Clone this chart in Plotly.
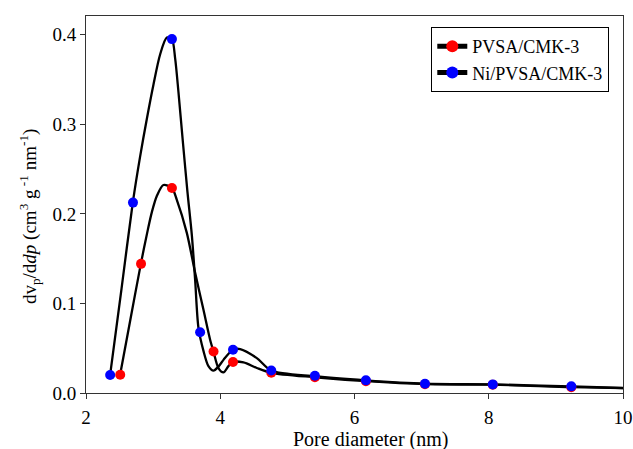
import plotly.graph_objects as go

# Marker data
ni_x = [2.36, 2.70, 3.28, 3.70, 4.19, 4.76, 5.41, 6.17, 7.05, 8.06, 9.23]
ni_y = [0.0201, 0.2126, 0.3952, 0.0678, 0.0483, 0.0252, 0.0193, 0.0141, 0.0104, 0.0096, 0.0074]

pv_x = [2.51, 2.82, 3.28, 3.90, 4.19, 4.76, 5.41, 6.17, 7.05, 8.06, 9.23]
pv_y = [0.0204, 0.1442, 0.2290, 0.0464, 0.0346, 0.0226, 0.0176, 0.0132, 0.0098, 0.0093, 0.0065]

# Smooth fitted curves
ni_cx = [2.359, 2.529, 2.697, 2.806, 2.906, 3.004, 3.104, 3.204, 3.279, 3.328, 3.377, 3.443,
         3.511, 3.577, 3.626, 3.675, 3.750, 3.824, 3.899, 3.973, 4.048, 4.188, 4.297, 4.545,
         4.758, 5.414, 6.170, 7.054, 8.063, 9.229, 10.0]
ni_cy = [0.020, 0.1163, 0.2126, 0.264, 0.306, 0.344, 0.378, 0.397, 0.3952, 0.3737, 0.3364, 0.2806,
         0.2249, 0.1760, 0.1260, 0.0730, 0.0470, 0.0300, 0.0250, 0.0295, 0.0370, 0.0483, 0.0491, 0.0390,
         0.0252, 0.0187, 0.0141, 0.0104, 0.0096, 0.0074, 0.0056]

pv_cx = [2.508, 2.662, 2.817, 2.923, 2.981, 3.055, 3.153, 3.279, 3.353, 3.502, 3.626, 3.750, 3.849,
         3.899, 3.973, 4.048, 4.122, 4.188, 4.346, 4.545, 4.758, 5.414, 6.170, 7.054, 8.063,
         9.229, 10.0]
pv_cy = [0.0204, 0.0823, 0.1442, 0.1830, 0.2020, 0.2200, 0.2323, 0.2290, 0.2157, 0.1788, 0.1342, 0.0929, 0.0595,
         0.0464, 0.0279, 0.0230, 0.0300, 0.0346, 0.0341, 0.0279, 0.0226, 0.0176, 0.0132, 0.0098, 0.0093,
         0.0065, 0.0054]

x_ticks = [2, 4, 6, 8, 10]
y_ticks = [0.0, 0.1, 0.2, 0.3, 0.4]

x_title = "Pore diameter (nm)"
y_title = "dv<sub>p</sub>/d<i>dp</i> (cm<sup>3</sup> g<sup> -1</sup> nm<sup>-1</sup>)"

FONT = "Liberation Serif, Times New Roman, serif"
TICK = dict(family=FONT, size=19, color="black")

fig = go.Figure()
for cx, cy in [(pv_cx, pv_cy), (ni_cx, ni_cy)]:
    fig.add_trace(go.Scatter(x=cx, y=cy, mode="lines", line=dict(color="black", width=2.3, shape="spline", smoothing=0.8),
                             showlegend=False, hoverinfo="skip"))
fig.add_trace(go.Scatter(x=pv_x, y=pv_y, mode="markers", marker=dict(color="#ff0000", size=10), showlegend=False))
fig.add_trace(go.Scatter(x=ni_x, y=ni_y, mode="markers", marker=dict(color="#0000ff", size=10), showlegend=False))
# legend entries
fig.add_trace(go.Scatter(x=[None], y=[None], mode="lines+markers", name="PVSA/CMK-3",
                         line=dict(color="black", width=2), marker=dict(color="#ff0000", size=10)))
fig.add_trace(go.Scatter(x=[None], y=[None], mode="lines+markers", name="Ni/PVSA/CMK-3",
                         line=dict(color="black", width=2), marker=dict(color="#0000ff", size=10)))

fig.update_layout(
    width=633, height=449,
    margin=dict(l=86, r=10, t=16, b=56),
    paper_bgcolor="white", plot_bgcolor="white",
    font=dict(family=FONT, size=18, color="black"),
    showlegend=True,
    legend=dict(x=0.643, y=0.971, xanchor="left", yanchor="top", bordercolor="black", borderwidth=1,
                bgcolor="white", font=dict(family=FONT, size=18, color="black"), tracegroupgap=0,
                itemsizing="constant"),
    xaxis=dict(range=[2, 10], tickvals=x_ticks, ticktext=[str(v) for v in x_ticks], automargin=False,
               showgrid=False, zeroline=False, showline=True, linecolor="#333", linewidth=1, mirror=True,
               ticks="outside", ticklen=5, tickcolor="#333", tickfont=TICK, ticklabelstandoff=2),
    yaxis=dict(range=[0, 0.421], tickvals=y_ticks, ticktext=["%.1f" % v for v in y_ticks], automargin=False,
               showgrid=False, zeroline=False, showline=True, linecolor="#333", linewidth=1, mirror=True,
               ticks="outside", ticklen=5, tickcolor="#333", tickfont=TICK),
    annotations=[
        dict(text=x_title, xref="paper", yref="paper", x=0.531, y=-0.124, xanchor="center", yanchor="middle",
             showarrow=False, font=dict(family=FONT, size=20, color="black")),
        dict(text=y_title, xref="paper", yref="paper", x=-0.104, y=0.467, xanchor="center", yanchor="middle",
             textangle=-90, showarrow=False, font=dict(family=FONT, size=19, color="black")),
    ],
)

fig.write_html("out.html")
